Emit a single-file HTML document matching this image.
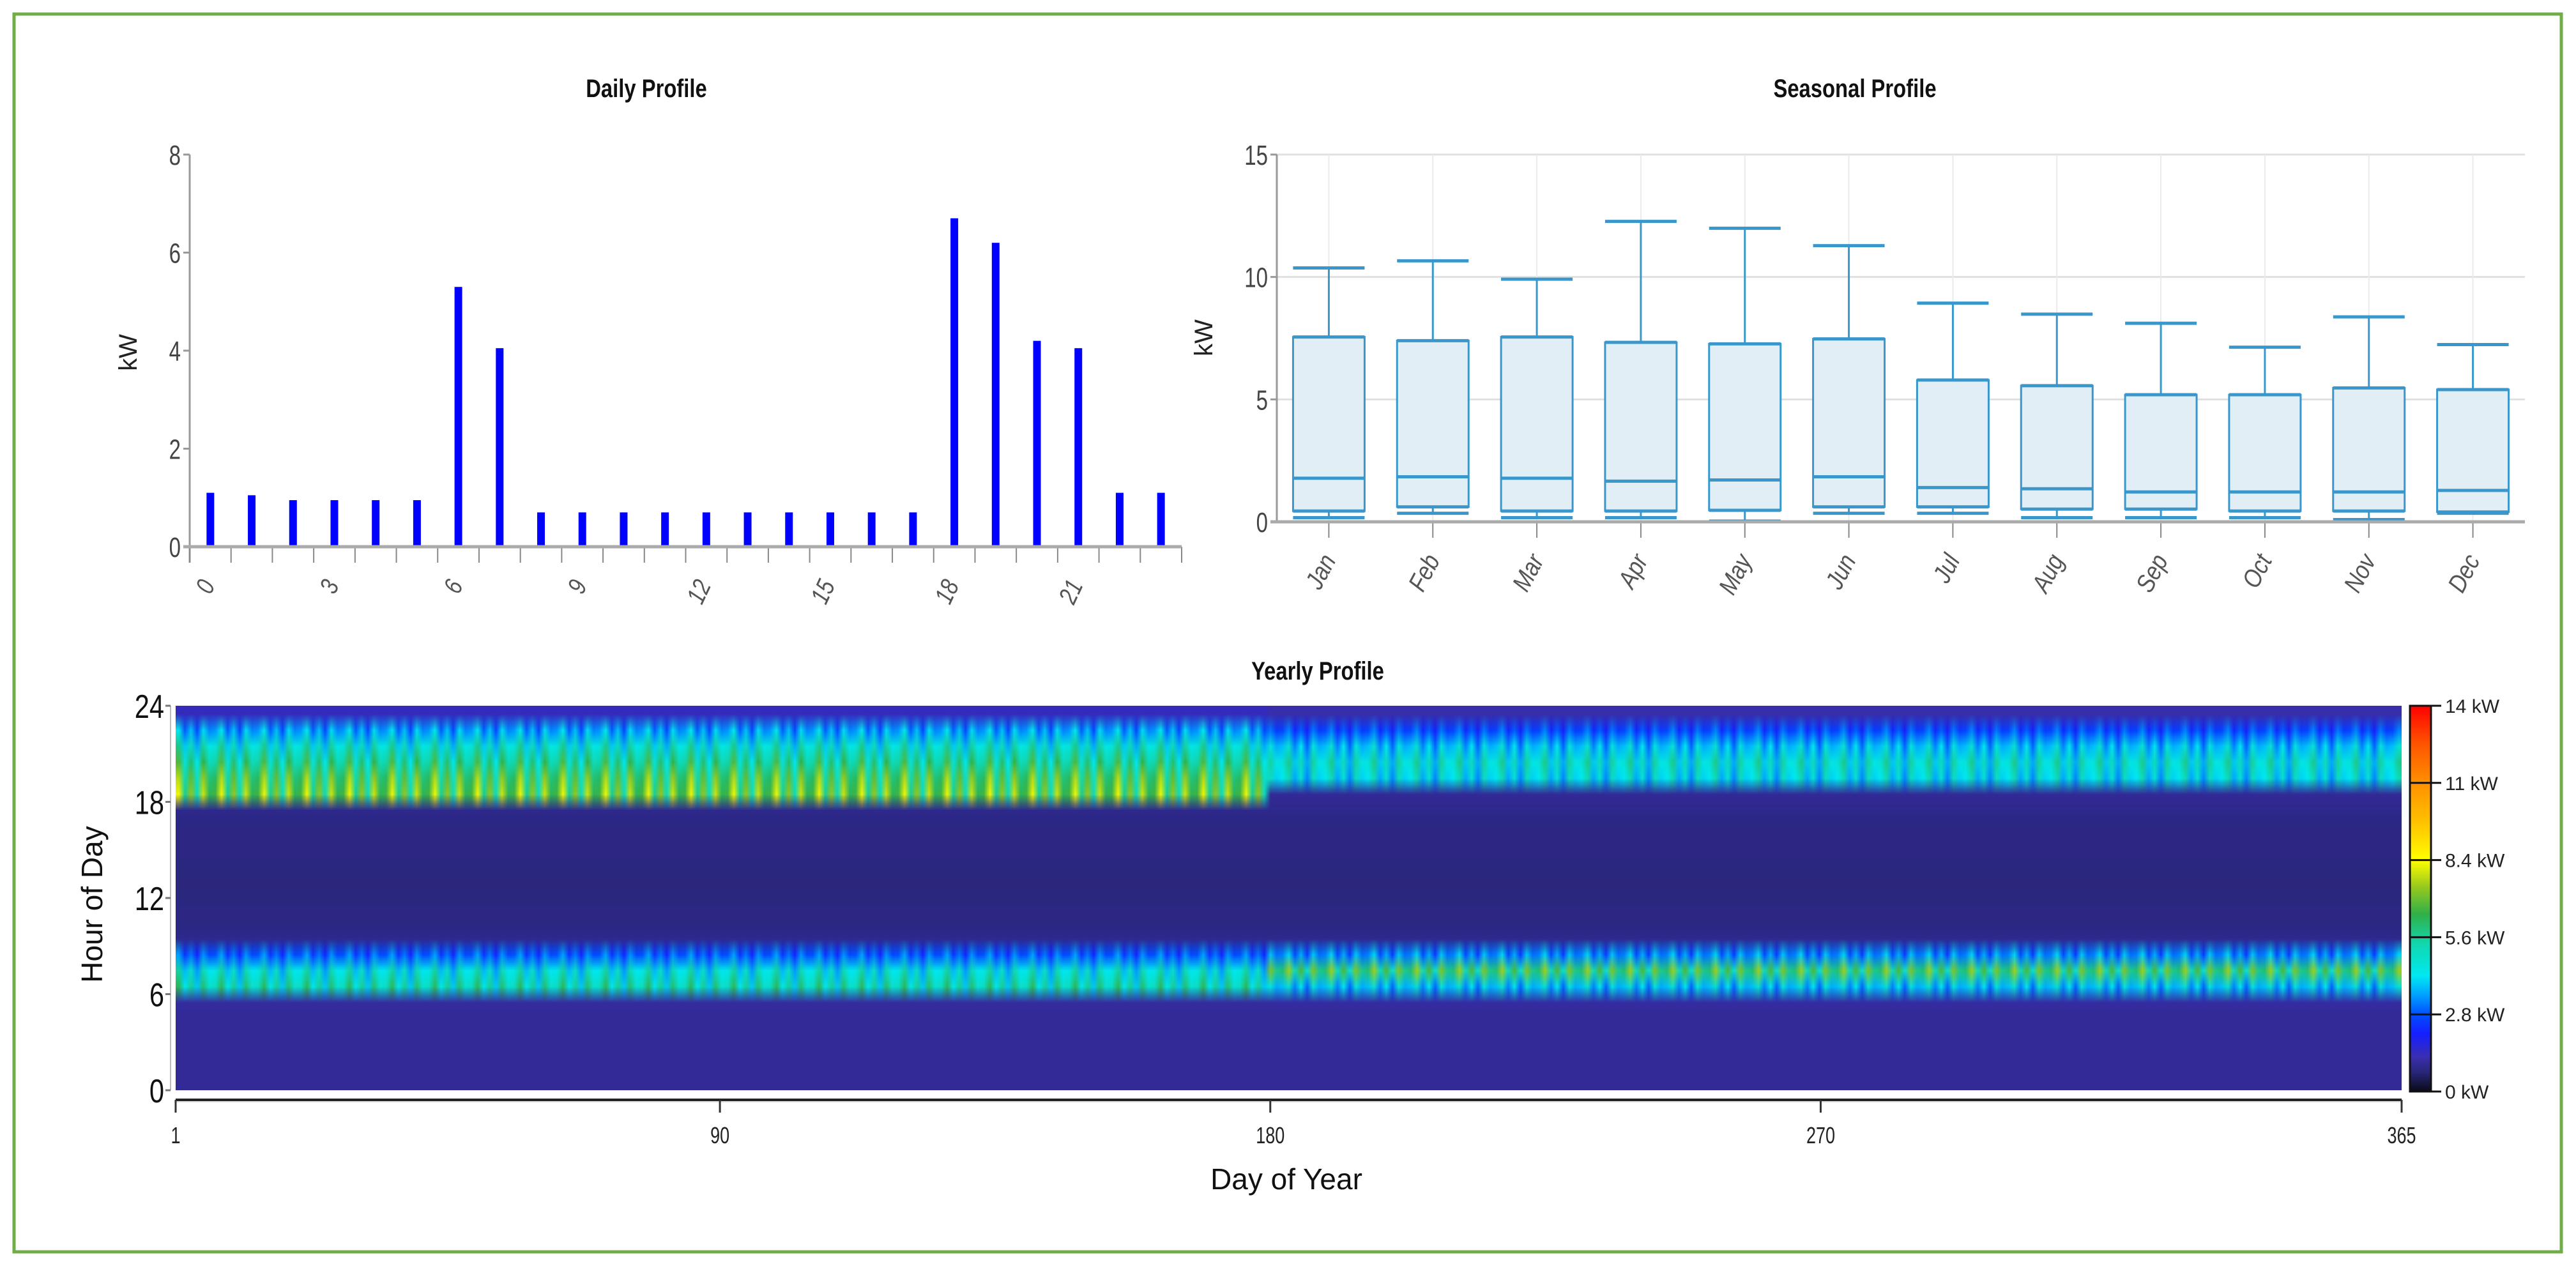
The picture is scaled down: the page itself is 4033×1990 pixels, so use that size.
<!DOCTYPE html>
<html><head><meta charset="utf-8">
<style>
html,body{margin:0;padding:0;background:#fff;}
#wrap{position:relative;width:4033px;height:1990px;overflow:hidden;}
svg{position:absolute;left:0;top:0;}
#heat{position:absolute;left:275px;top:1105px;width:3485px;height:602px;}
text{font-family:"Liberation Sans",sans-serif;}
</style></head>
<body>
<div id="wrap">
<svg id="svg" width="4033" height="1990">
<rect x="22" y="22" width="3988" height="1938" fill="none" stroke="#70ad47" stroke-width="5"/>
</svg>
<canvas id="heat" width="365" height="24"></canvas>
</div>
<script>
// ---- Daily profile data ----
const dailyHours = [0,1,2,3,4,5,6,7,8,9,10,11,12,13,14,15,16,17,18,19,20,21,22,23];
const dailyValues = [1.1,1.05,0.95,0.95,0.95,0.95,5.3,4.05,0.7,0.7,0.7,0.7,0.7,0.7,0.7,0.7,0.7,0.7,6.7,6.2,4.2,4.05,1.1,1.1];
const dailyTicks = [0,2,4,6,8];
const dailyLabels = ["0","3","6","9","12","15","18","21"];
// ---- Seasonal profile data ----
const months = ["Jan","Feb","Mar","Apr","May","Jun","Jul","Aug","Sep","Oct","Nov","Dec"];
const seasMax = [10.37,10.66,9.91,12.27,11.99,11.28,8.93,8.48,8.11,7.13,8.37,7.24];
const seasQ3 = [7.55,7.4,7.55,7.33,7.27,7.47,5.79,5.56,5.19,5.19,5.47,5.4];
const seasMed = [1.78,1.84,1.78,1.66,1.71,1.84,1.4,1.35,1.22,1.22,1.22,1.28];
const seasQ1 = [0.44,0.61,0.44,0.44,0.47,0.61,0.61,0.52,0.52,0.44,0.44,0.4];
const seasMin = [0.17,0.35,0.17,0.17,0.03,0.35,0.35,0.17,0.17,0.17,0.09,0.35];
const seasTicks = [0,5,10,15];
// ---- Yearly heatmap data ----
const firstHalfProfile = [1.0,1.0,1.0,1.0,1.0,1.1,5.0,4.4,2.8,0.9,0.8,0.8,0.75,0.75,0.8,0.8,0.8,0.9,6.6,6.2,5.4,4.6,3.4,1.4];
const secondHalfProfile = [1.0,1.0,1.0,1.0,1.0,1.1,3.8,6.0,3.2,0.9,0.8,0.8,0.75,0.75,0.8,0.8,0.8,0.9,1.0,4.2,4.6,3.8,2.6,1.2];
const weekFactor = [1.0,1.25,0.85,1.12,0.78,1.2,0.95];
const switchDay = 180;
const dayTicks = [1,90,180,270,365];
const hourTicks = [0,6,12,18,24];
const cbarTicks = [0,2.8,5.6,8.4,11.2,14];
const cbarLabels = ["0 kW","2.8 kW","5.6 kW","8.4 kW","11 kW","14 kW"];

const NS="http://www.w3.org/2000/svg";
const svg=document.getElementById('svg');
function el(tag,attrs,parent){const e=document.createElementNS(NS,tag);for(const k in attrs)e.setAttribute(k,attrs[k]);(parent||svg).appendChild(e);return e;}
function txt(s,attrs,parent){const e=el('text',attrs,parent);e.textContent=s;return e;}

let t;
t=txt("Daily Profile",{x:0,y:0,"font-size":40,"font-weight":"bold","text-anchor":"middle",transform:"translate(1012,152) scale(0.82,1)",fill:"#111"});

t=txt("Seasonal Profile",{x:0,y:0,"font-size":40,"font-weight":"bold","text-anchor":"middle",transform:"translate(2904,152) scale(0.82,1)",fill:"#111"});

t=txt("Yearly Profile",{x:0,y:0,"font-size":40,"font-weight":"bold","text-anchor":"middle",transform:"translate(2063,1064) scale(0.82,1)",fill:"#111"});


// ---- Daily chart ----
const dL=297,dR=1850,dB=856,dT=242;
const dy=v=>dB-(v/8)*(dB-dT);
const bw=(dR-dL)/24;
const dx=i=>dL+bw*(i+0.5);
el('line',{x1:dL,y1:dT,x2:dL,y2:dB+25,stroke:"#999","stroke-width":3});
dailyTicks.forEach(v=>{
  el('line',{x1:dL-10,y1:dy(v),x2:dL,y2:dy(v),stroke:"#999","stroke-width":3});
  const e=txt(String(v),{x:0,y:0,"font-size":44,"text-anchor":"end",fill:"#444",transform:`translate(${dL-14},${dy(v)+16}) scale(0.75,1)`});
  
});
for(let i=0;i<=24;i++){el('line',{x1:dL+bw*i,y1:dB,x2:dL+bw*i,y2:dB+25,stroke:"#888","stroke-width":2});}
dailyHours.forEach((h,i)=>{
  const r=el('rect',{x:dx(i)-6,y:dy(dailyValues[i]),width:12,height:dB-dy(dailyValues[i]),fill:"#0000ff"});
  
  
});
el('line',{x1:dL-10,y1:dB,x2:dR,y2:dB,stroke:"#aaa","stroke-width":5});
dailyLabels.forEach(s=>{
  const i=+s;
  const e=txt(s,{x:0,y:0,"font-size":40,"text-anchor":"end",fill:"#555","font-style":"italic",transform:`translate(${dx(i)+8},${dB+60}) rotate(-65) scale(0.8,1)`});
  
});
t=txt("kW",{x:0,y:0,"font-size":40,"text-anchor":"middle",fill:"#222",transform:"translate(214,552) rotate(-90)"});


// ---- Seasonal chart ----
const sL=1999,sR=3953,sB=817,sT=242;
const sy=v=>sB-(v/15)*(sB-sT);
const mw=(sR-sL)/12;
const sx=i=>sL+mw*(i+0.5);
seasTicks.forEach(v=>{
  el('line',{x1:sL,y1:sy(v),x2:sR,y2:sy(v),stroke:"#e0e0e0","stroke-width":3});
  el('line',{x1:sL-10,y1:sy(v),x2:sL,y2:sy(v),stroke:"#999","stroke-width":3});
  const e=txt(String(v),{x:0,y:0,"font-size":44,"text-anchor":"end",fill:"#444",transform:`translate(${sL-14},${sy(v)+16}) scale(0.75,1)`});
  
});
months.forEach((m,i)=>{el('line',{x1:sx(i),y1:sT,x2:sx(i),y2:sB,stroke:"#ebebeb","stroke-width":2});});
el('line',{x1:sL,y1:sT,x2:sL,y2:sB,stroke:"#999","stroke-width":3});
const boxW=112,col="#3a97cc";
months.forEach((m,i)=>{
  const g=el('g',{});
  
  
  const c=sx(i);
  el('line',{x1:c,y1:sy(seasMax[i]),x2:c,y2:sy(seasQ3[i]),stroke:col,"stroke-width":3},g);
  el('line',{x1:c,y1:sy(seasQ1[i]),x2:c,y2:sy(seasMin[i]),stroke:col,"stroke-width":3},g);
  el('line',{x1:c-boxW/2,y1:sy(seasMax[i]),x2:c+boxW/2,y2:sy(seasMax[i]),stroke:col,"stroke-width":5},g);
  el('line',{x1:c-boxW/2,y1:sy(seasMin[i]),x2:c+boxW/2,y2:sy(seasMin[i]),stroke:col,"stroke-width":5},g);
  el('rect',{x:c-boxW/2,y:sy(seasQ3[i]),width:boxW,height:sy(seasQ1[i])-sy(seasQ3[i]),fill:"#e1eef6",stroke:col,"stroke-width":3},g);
  el('line',{x1:c-boxW/2,y1:sy(seasQ3[i]),x2:c+boxW/2,y2:sy(seasQ3[i]),stroke:col,"stroke-width":5},g);
  el('line',{x1:c-boxW/2,y1:sy(seasMed[i]),x2:c+boxW/2,y2:sy(seasMed[i]),stroke:col,"stroke-width":5},g);
  el('line',{x1:c-boxW/2,y1:sy(seasQ1[i]),x2:c+boxW/2,y2:sy(seasQ1[i]),stroke:col,"stroke-width":5},g);
  el('line',{x1:c,y1:sB,x2:c,y2:sB+25,stroke:"#888","stroke-width":2});
  const e=txt(m,{x:0,y:0,"font-size":40,"text-anchor":"end",fill:"#555","font-style":"italic",transform:`translate(${c+12},${sB+60}) rotate(-62) scale(0.85,1)`});
  
});
el('line',{x1:sL-10,y1:sB,x2:sR,y2:sB,stroke:"#aaa","stroke-width":5});
t=txt("kW",{x:0,y:0,"font-size":40,"text-anchor":"middle",fill:"#222",transform:"translate(1898,529) rotate(-90)"});


// ---- Yearly heatmap ----
const hL=275,hR=3760,hT=1105,hB=1707;
const cmapStops=[[0,[10,10,24]],[0.05,[40,38,120]],[0.09,[58,46,176]],[0.15,[20,30,255]],[0.2,[0,80,255]],[0.25,[0,160,255]],[0.3,[0,232,240]],[0.38,[16,216,176]],[0.46,[48,176,72]],[0.53,[150,200,30]],[0.6,[255,255,0]],[0.7,[255,192,0]],[0.8,[255,144,0]],[0.9,[255,85,0]],[1,[255,0,0]]];
function cmap(f){f=Math.max(0,Math.min(1,f));for(let k=1;k<cmapStops.length;k++){if(f<=cmapStops[k][0]){const a=cmapStops[k-1],b=cmapStops[k];const u=(f-a[0])/(b[0]-a[0]);return a[1].map((c,j)=>Math.round(c+(b[1][j]-c)*u));}}return [255,0,0];}
const cv=document.getElementById('heat');const ctx=cv.getContext('2d');
const img=ctx.createImageData(365,24);
for(let d=1;d<=365;d++){
  const prof=d<switchDay?firstHalfProfile:secondHalfProfile;
  const wf=weekFactor[d%7];
  for(let h=0;h<24;h++){
    const base=prof[h];
    const v=base>1.5?base*wf:base;
    const c=cmap(v/14);
    const idx=((23-h)*365+(d-1))*4;
    img.data[idx]=c[0];img.data[idx+1]=c[1];img.data[idx+2]=c[2];img.data[idx+3]=255;
  }
}
ctx.putImageData(img,0,0);
cv.style.imageRendering="auto";
const hx=d=>hL+(d-1)/(364)*(hR-hL);
const hy=h=>hB-(h/24)*(hB-hT);
el('line',{x1:hL-8,y1:hT,x2:hL-8,y2:hB,stroke:"#bbb","stroke-width":2});
hourTicks.forEach(h=>{
  el('line',{x1:hL-16,y1:hy(h),x2:hL-8,y2:hy(h),stroke:"#777","stroke-width":3});
  const e=txt(String(h),{x:0,y:0,"font-size":52,"text-anchor":"end",fill:"#111",transform:`translate(${hL-18},${hy(h)+19}) scale(0.8,1)`});
  
});
el('rect',{x:hL,y:1720,width:hR-hL,height:6,fill:"#ddd"});
el('line',{x1:hL,y1:1722,x2:hR,y2:1722,stroke:"#222","stroke-width":4});
dayTicks.forEach(d=>{
  el('line',{x1:hx(d),y1:1722,x2:hx(d),y2:1742,stroke:"#333","stroke-width":3});
  const e=txt(String(d),{x:0,y:0,"font-size":36,"text-anchor":"middle",fill:"#222",transform:`translate(${hx(d)},${1790}) scale(0.75,1)`});
  
});
t=txt("Day of Year",{x:2014,y:1862,"font-size":46,"text-anchor":"middle",fill:"#111"});

t=txt("Hour of Day",{x:0,y:0,"font-size":46,"text-anchor":"middle",fill:"#111",transform:"translate(160,1416) rotate(-90)"});


// Colorbar
const cL=3773,cW=33,cT=1105,cB=1709;
const defs=el('defs',{});
const grad=el('linearGradient',{id:"cg",x1:0,y1:1,x2:0,y2:0},defs);
cmapStops.forEach(s=>{el('stop',{offset:s[0],"stop-color":`rgb(${s[1].join(',')})`},grad);});
const cb=el('rect',{x:cL,y:cT,width:cW,height:cB-cT,fill:"url(#cg)",stroke:"#111","stroke-width":3});

const cy=v=>cB-(v/14)*(cB-cT);
cbarTicks.forEach((v,i)=>{
  el('line',{x1:cL,y1:cy(v),x2:cL+cW+16,y2:cy(v),stroke:"#111","stroke-width":3});
  const e=txt(cbarLabels[i],{x:cL+cW+22,y:cy(v)+11,"font-size":30,fill:"#222","font-family":"DejaVu Sans, sans-serif"});
  
});
</script>
</body></html>
